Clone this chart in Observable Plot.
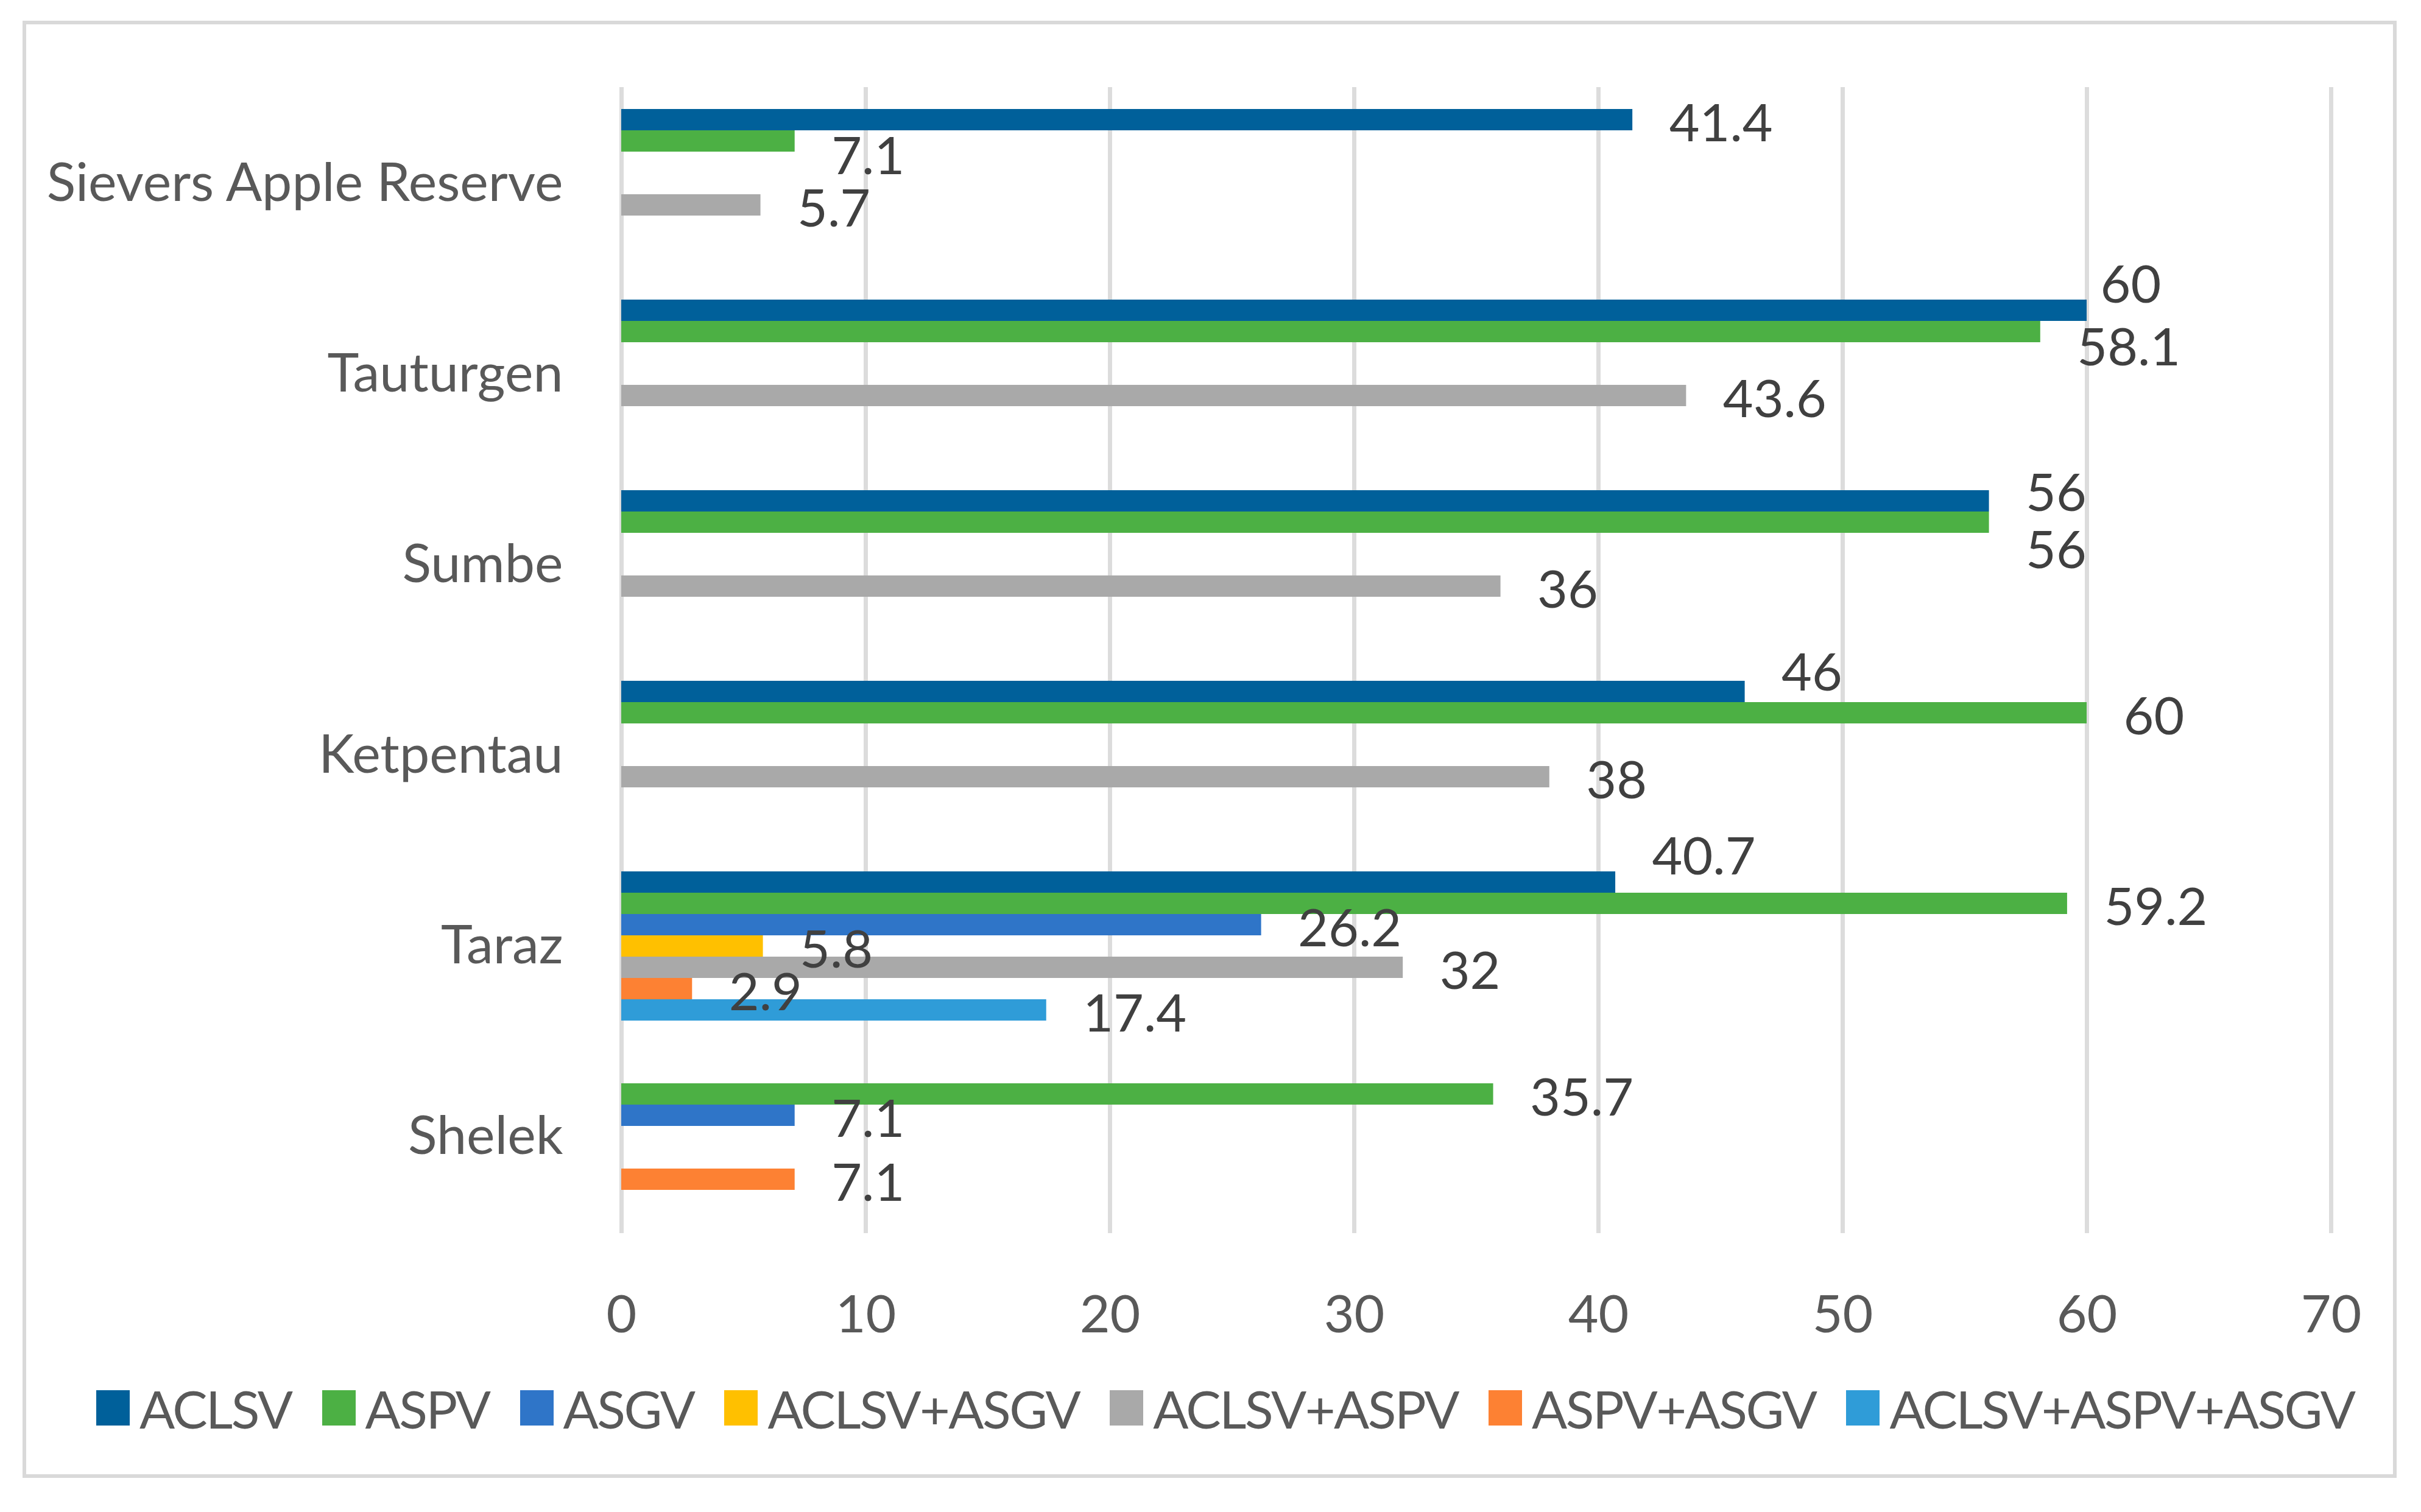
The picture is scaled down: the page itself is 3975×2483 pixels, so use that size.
<!DOCTYPE html>
<html>
<head>
<meta charset="utf-8">
<script src="https://cdn.jsdelivr.net/npm/d3@7"></script>
<script src="https://cdn.jsdelivr.net/npm/@observablehq/plot@0.6"></script>
<style>
  html, body { margin: 0; padding: 0; background: #fff; }
  #wrap { position: relative; width: 3975px; height: 2483px; background: #fff; font-family: Lato, "Open Sans", sans-serif; }
  #frame { position: absolute; left: 37px; top: 34px; width: 3898px; height: 2393px; border: 6px solid #d9d9d9; box-sizing: border-box; }
  #grid, #chart { position: absolute; left: 0; top: 0; }
  #legend { position: absolute; left: 158px; top: 2262px; height: 100px; display: flex; align-items: center; gap: 50px; font-size: 86px; letter-spacing: -2.5px; color: #595959; white-space: nowrap; }
  #legend .item { display: flex; align-items: center; gap: 16px; }
  #legend .sw { width: 55px; height: 58px; display: inline-block; }
</style>
</head>
<body>
<div id="wrap">
  <div id="frame"></div>
  <div id="grid"></div>
  <div id="chart"></div>
  <div id="legend"></div>
</div>
<script>
// ---- data ----
const categories = ["Sievers Apple Reserve", "Tauturgen", "Sumbe", "Ketpentau", "Taraz", "Shelek"];
const seriesNames = ["ACLSV", "ASPV", "ASGV", "ACLSV+ASGV", "ACLSV+ASPV", "ASPV+ASGV", "ACLSV+ASPV+ASGV"];
const colors = ["#00609a", "#4cb044", "#2f75c8", "#ffc000", "#a9a9a9", "#fd8133", "#2f9cd8"];
const ACLSV = [41.4, 60, 56, 46, 40.7, null];
const ASPV = [7.1, 58.1, 56, 60, 59.2, 35.7];
const ASGV = [null, null, null, null, 26.2, 7.1];
const ACLSV_ASGV = [null, null, null, null, 5.8, null];
const ACLSV_ASPV = [5.7, 43.6, 36, 38, 32, null];
const ASPV_ASGV = [null, null, null, null, 2.9, 7.1];
const ACLSV_ASPV_ASGV = [null, null, null, null, 17.4, null];
const xTicks = [0, 10, 20, 30, 40, 50, 60, 70];

const seriesValues = [ACLSV, ASPV, ASGV, ACLSV_ASGV, ACLSV_ASPV, ASPV_ASGV, ACLSV_ASPV_ASGV];
const rows = [];
seriesNames.forEach((s, i) => {
  categories.forEach((c, j) => {
    const v = seriesValues[i][j];
    if (v != null) rows.push({cat: c, series: s, value: v});
  });
});

// label collision nudges (Excel moved these labels)
const nudges = {
  "Sievers Apple Reserve|ASPV": [0, 19],
  "Tauturgen|ACLSV": [-38, -48],
  "Tauturgen|ASPV": [0, 20],
  "Sumbe|ACLSV": [0, -19],
  "Sumbe|ASPV": [0, 40],
  "Ketpentau|ACLSV": [0, -37],
  "Taraz|ACLSV": [0, -48]
};
const key = d => d.cat + "|" + d.series;
const plain = rows.filter(d => !(key(d) in nudges));
const labelBase = {fy: "cat", y: "series", x: "value", text: d => String(d.value), textAnchor: "start", fill: "#404040", fontSize: 86};
const labelMarks = [Plot.text(plain, {...labelBase, dx: 60, dy: 7})];
for (const k of Object.keys(nudges)) {
  const [ndx, ndy] = nudges[k];
  labelMarks.push(Plot.text(rows.filter(d => key(d) === k), {...labelBase, dx: 60 + ndx, dy: 7 + ndy}));
}

const common = {
  width: 3975,
  height: 2230,
  marginLeft: 1020,
  marginRight: 148,
  marginTop: 143,
  marginBottom: 205,
  style: {fontFamily: "Lato, 'Open Sans', sans-serif", fontSize: "86px", background: "transparent"}
};

// continuous vertical gridlines (behind the faceted chart)
const grid = Plot.plot({
  ...common,
  x: {domain: [0, 70], axis: null},
  marks: [Plot.ruleX(xTicks, {stroke: "#dcdcdc", strokeWidth: 7})]
});
document.getElementById("grid").appendChild(grid);

const chart = Plot.plot({
  ...common,
  x: {domain: [0, 70]},
  fy: {domain: categories, paddingInner: 0.2, paddingOuter: 0.1, label: null},
  y: {domain: seriesNames, padding: 0, axis: null},
  color: {domain: seriesNames, range: colors},
  marks: [
    Plot.barX(rows, {fy: "cat", y: "series", x: "value", fill: "series"}),
    ...labelMarks,
    Plot.axisX({ticks: xTicks, tickSize: 0, tickPadding: 135, color: "#595959", fontSize: 86, label: null}),
    Plot.axisFy({anchor: "left", tickSize: 0, tickPadding: 96, color: "#595959", fontSize: 88, label: null})
  ]
});
document.getElementById("chart").appendChild(chart);

// legend built from the same series/colour arrays
const legend = document.getElementById("legend");
seriesNames.forEach((s, i) => {
  const item = document.createElement("div");
  item.className = "item";
  const sw = document.createElement("span");
  sw.className = "sw";
  sw.style.background = colors[i];
  const t = document.createElement("span");
  t.textContent = s;
  item.appendChild(sw);
  item.appendChild(t);
  legend.appendChild(item);
});
</script>
</body>
</html>
